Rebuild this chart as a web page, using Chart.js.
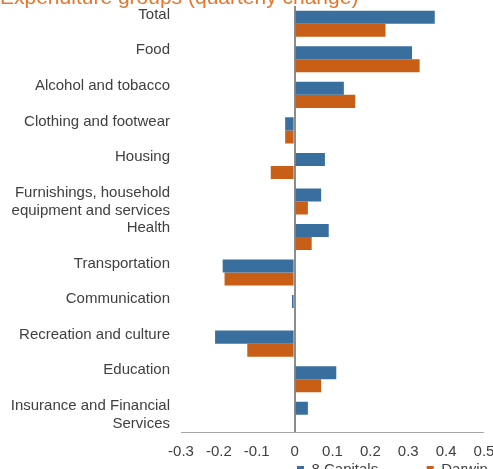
<!DOCTYPE html>
<html>
<head>
<meta charset="utf-8">
<script src="https://cdn.jsdelivr.net/npm/chart.js@4/dist/chart.umd.min.js"></script>
<style>
  html, body { margin: 0; padding: 0; background: #ffffff; overflow: hidden; width: 493px; height: 469px; }
  #wrap { position: absolute; left: 0; top: -15px; }
</style>
</head>
<body>
<div id="wrap"><canvas id="c" width="505" height="549"></canvas></div>
<script>
const titleText = 'Expenditure groups (quarterly change)';
const categories = [
  ['Total', ''],
  ['Food', ''],
  ['Alcohol and tobacco', ''],
  ['Clothing and footwear', ''],
  ['Housing', ''],
  ['Furnishings, household', 'equipment and services'],
  ['Health', ''],
  ['Transportation', ''],
  ['Communication', ''],
  ['Recreation and culture', ''],
  ['Education', ''],
  ['Insurance and Financial', 'Services']
];
const seriesNames = ['8 Capitals', 'Darwin'];
const capitals = [0.37, 0.31, 0.13, -0.025, 0.08, 0.07, 0.09, -0.19, -0.007, -0.21, 0.11, 0.035];
const darwin   = [0.24, 0.33, 0.16, -0.025, -0.063, 0.035, 0.045, -0.185, 0, -0.125, 0.07, 0];
const xTicks = [-0.3, -0.2, -0.1, 0, 0.1, 0.2, 0.3, 0.4, 0.5];

const LEG_PAD = 48.5;
const legendMover = {
  id: 'legendMover',
  beforeDraw(chart) {
    const lg = chart.legend;
    if (!lg) return;
    lg.left = 297 - LEG_PAD;
    lg.right = 2000;
    lg.top = 477 - LEG_PAD;
  }
};

new Chart(document.getElementById('c'), {
  type: 'bar',
  data: {
    labels: categories,
    datasets: [
      { label: seriesNames[0], data: capitals, backgroundColor: '#386F9E', borderWidth: 0,
        barPercentage: 1, categoryPercentage: 0.735 },
      { label: seriesNames[1], data: darwin, backgroundColor: '#C95E16', borderWidth: 0,
        barPercentage: 1, categoryPercentage: 0.735 }
    ]
  },
  options: {
    indexAxis: 'y',
    responsive: false,
    animation: false,
    layout: { padding: { left: 0, top: 0, bottom: 0, right: 21 } },
    plugins: {
      title: {
        display: true,
        text: titleText,
        align: 'start',
        color: '#E4772E',
        font: { family: 'Liberation Sans, Arial, sans-serif', size: 21, weight: 'normal', lineHeight: 1 },
        padding: { top: 3, bottom: -3 }
      },
      legend: {
        display: true,
        position: 'bottom',
        align: 'start',
        labels: {
          boxWidth: 7,
          boxHeight: 7,
          padding: LEG_PAD,
          color: '#404040',
          font: { family: 'Liberation Sans, Arial, sans-serif', size: 15 }
        }
      },
      tooltip: { enabled: false }
    },
    scales: {
      x: {
        type: 'linear',
        min: xTicks[0],
        max: xTicks[xTicks.length - 1],
        afterBuildTicks: s => { s.ticks = xTicks.map(v => ({ value: v })); },
        afterFit: s => { s.height = 28; s.paddingRight = 0; s.paddingLeft = 0; },
        grid: {
          drawTicks: false,
          color: c => (c.tick && c.tick.value === 0) ? '#8C8C8C' : 'rgba(0,0,0,0)',
          lineWidth: c => (c.tick && c.tick.value === 0) ? 2 : 0
        },
        border: { display: true, color: '#A6A6A6', width: 1 },
        ticks: {
          padding: 10,
          color: '#404040',
          font: { family: 'Liberation Sans, Arial, sans-serif', size: 15 },
          callback: v => String(Math.round(v * 10) / 10)
        }
      },
      y: {
        type: 'category',
        offset: true,
        afterFit: s => { s.width = 181; s.paddingTop = 0; s.paddingBottom = 0; },
        grid: { display: false, drawTicks: false },
        border: { display: false },
        ticks: {
          autoSkip: false,
          padding: 11,
          color: '#404040',
          font: { family: 'Liberation Sans, Arial, sans-serif', size: 15, lineHeight: 1.2 }
        }
      }
    }
  },
  plugins: [legendMover]
});
</script>
</body>
</html>
